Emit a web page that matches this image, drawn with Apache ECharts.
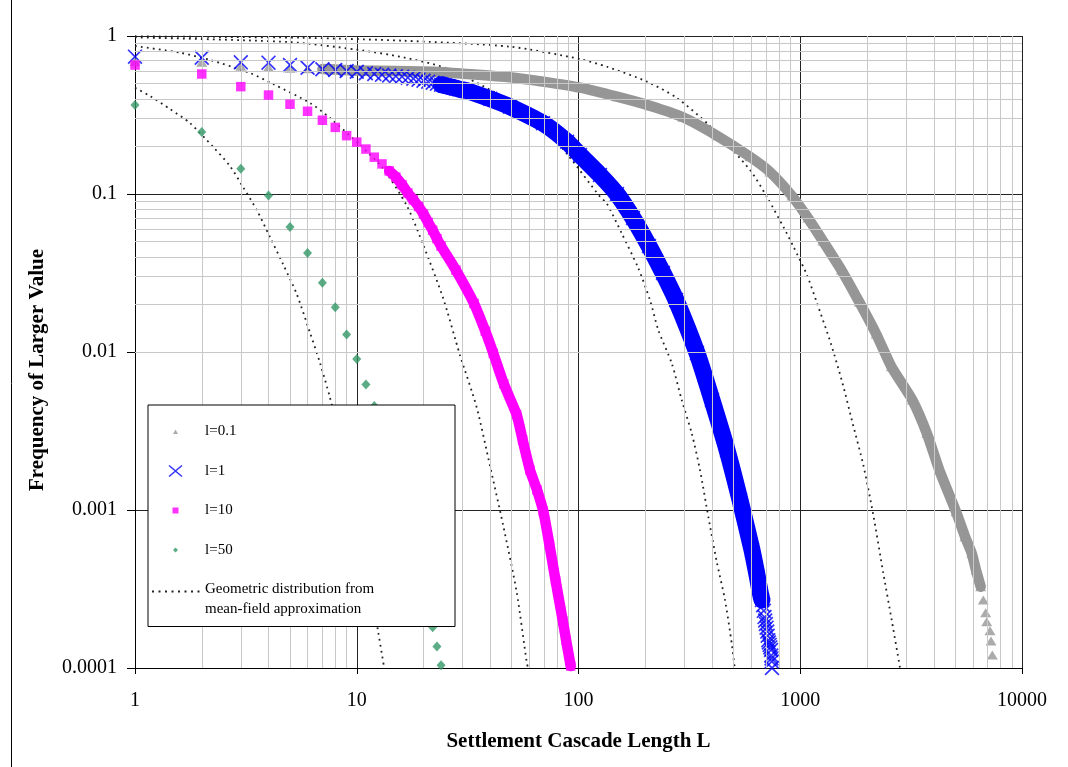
<!DOCTYPE html>
<html>
<head>
<meta charset="utf-8">
<script src="https://cdn.jsdelivr.net/npm/echarts@6/dist/echarts.min.js"></script>
<style>
  html, body { margin: 0; padding: 0; background: #fff; }
  #chart { width: 1068px; height: 767px; }
</style>
</head>
<body>
<div id="chart"></div>
<script>
// ---- Empirical cascade-length distributions (frequency of a larger value) ----
const lenL01 = [1, 2, 3, 4, 5, 6, 7, 10, 22.1, 31.4, 49.1, 69.2, 101.6, 149.1, 209.6, 296, 421, 593.5,
  730.4, 918, 1083, 1266, 1533, 1846, 2200, 2577, 3201, 3722, 4238, 5040, 5534, 5933, 6202, 6513,
  6691, 6859, 6931, 7173, 7248, 7347];
const freqL01 = [0.69, 0.683, 0.644, 0.634, 0.625, 0.62, 0.618, 0.605, 0.594, 0.575, 0.548, 0.514, 0.471,
  0.413, 0.362, 0.306, 0.234, 0.172, 0.1378, 0.0971, 0.0705, 0.0504, 0.033, 0.0207, 0.0130, 0.00807,
  0.00497, 0.00306, 0.00179, 0.000976, 0.000678, 0.000532, 0.000417, 0.000327,
  0.000269, 0.000224, 0.000196, 0.000172, 0.000148, 0.000121];

const lenL1 = [1, 2, 3, 4, 5, 6, 7, 8, 9, 10, 11, 12, 13, 14, 15, 16, 17, 18, 19, 20, 21, 22, 23, 24,
  25, 26, 27, 28, 29, 30, 31.4, 40, 49.1, 69.2, 88.8, 101.6, 125, 149.1, 176.1, 207.9, 240.5,
  275.3, 342.2, 399.9, 467.5, 535, 605.9, 640, 660, 672.1,
  680, 685, 690, 695, 700, 705, 710, 713, 718, 722, 728, 733, 738.3, 740, 742, 744, 745.7];
const freqL1 = [0.740, 0.729, 0.681, 0.678, 0.655, 0.630, 0.616, 0.609, 0.600, 0.594, 0.581, 0.575,
  0.568, 0.562, 0.557, 0.553, 0.545, 0.537, 0.529, 0.521, 0.514, 0.506, 0.499, 0.492, 0.486,
  0.479, 0.473, 0.467, 0.461, 0.456, 0.4505, 0.40, 0.3568, 0.2802, 0.2143, 0.1765, 0.1319,
  0.1, 0.0705, 0.0469, 0.0316, 0.0213, 0.00986, 0.00497, 0.0024, 0.001157, 0.000558,
  0.00038, 0.0003, 0.000269,
  0.00025, 0.00023, 0.00021, 0.0002, 0.00019, 0.00018, 0.00017, 0.00016, 0.00015, 0.000145,
  0.00014, 0.000135, 0.00013, 0.00012, 0.000115, 0.00011, 0.0001];

const lenL10 = [1, 2, 3, 4, 5, 6, 7, 8, 9, 10, 11, 12, 13, 14, 15, 16, 17, 18, 19, 20, 21, 22, 23, 24,
  28, 33.8, 38, 41.3, 46, 52.6, 56, 60.4, 65, 69.4, 74, 78.9, 85, 88, 92.2];
const freqL10 = [0.655, 0.575, 0.478, 0.423, 0.370, 0.334, 0.293, 0.264, 0.234, 0.213, 0.1925, 0.171,
  0.155, 0.140, 0.128, 0.1145, 0.1015, 0.0918, 0.0834, 0.0747, 0.066, 0.059, 0.0522, 0.0468,
  0.033, 0.0203, 0.01354, 0.0098, 0.0063, 0.00402, 0.00277, 0.00179, 0.00134, 0.00098,
  0.0006, 0.000355, 0.000198, 0.000149, 0.000103];

const lenL50 = [1, 2, 3, 4, 5, 6, 7, 8, 9, 10, 11, 12, 13, 14, 15, 16, 17, 18, 19, 20, 21, 22, 23, 24];
const freqL50 = [0.366, 0.247, 0.1444, 0.0977, 0.0618, 0.0423, 0.0274, 0.0192, 0.0129, 0.00903,
  0.00622, 0.00455, 0.00331, 0.0024, 0.00174, 0.00126, 0.00091, 0.00066, 0.00048, 0.000347,
  0.000251, 0.000181, 0.000137, 0.000104];

// ---- Mean-field geometric distributions ----
const geoLen01 = [1, 2.55, 5.55, 16.2, 49.1, 101.6, 134.4, 203.7, 278, 391.8, 593.5, 707.9, 844.8,
  932.2, 1072, 1190, 1372, 1550, 1722, 1924, 2135, 2368, 2585, 2818];
const geoFreq01 = [0.995, 0.985, 0.975, 0.934, 0.856, 0.715, 0.639, 0.514, 0.405, 0.269, 0.1418,
  0.0957, 0.0609, 0.0464, 0.0307, 0.0204, 0.0114, 0.00636, 0.00355, 0.00193, 0.00093,
  0.000399, 0.000201, 0.0001];

const geoLen1 = [1, 5, 10, 16.2, 25.4, 42.8, 49, 70, 90, 125, 134, 156.6, 186.1, 210.1, 229, 263.3,
  292.1, 324, 353.1, 384.9, 420.1, 457.9, 490.9, 506.3];
const geoFreq1 = [0.98, 0.915, 0.82, 0.733, 0.625, 0.434, 0.393, 0.26, 0.175, 0.0961, 0.0873, 0.0564,
  0.0339, 0.0213, 0.01377, 0.00848, 0.00497, 0.00306, 0.00179, 0.000907, 0.000471,
  0.000269, 0.000143, 0.0001];

const geoLen10 = [1, 1.596, 2.18, 3.3, 4.19, 6.15, 7.57, 10.34, 13.1, 16.85, 19.9, 24.5, 29.2, 34.7,
  39.9, 45.7, 52.6, 58.4, 59.2];
const geoFreq10 = [0.864, 0.784, 0.705, 0.583, 0.497, 0.377, 0.303, 0.204, 0.146, 0.0839, 0.048,
  0.022, 0.00957, 0.00449, 0.0019, 0.000804, 0.000303, 0.000109, 0.0001];

const geoLen50 = [1, 1.169, 1.438, 1.77, 2.247, 2.68, 3.07, 3.54, 4.06, 4.65, 5.36, 6.15, 6.83, 7.57,
  9, 10, 11, 12.51, 13.04, 13.3];
const geoFreq50 = [0.47, 0.417, 0.345, 0.281, 0.199, 0.1504, 0.1107, 0.0792, 0.0534, 0.036, 0.0233,
  0.01327, 0.00852, 0.00515, 0.00196, 0.00101, 0.00052, 0.000167, 0.000118, 0.0001];

// ---- Labels ----
const seriesNames = ['l=0.1', 'l=1', 'l=10', 'l=50'];
const geoName = 'Geometric distribution from mean-field approximation';
const xTickLabels = ['1', '10', '100', '1000', '10000'];
const yTickLabels = ['1', '0.1', '0.01', '0.001', '0.0001'];
const xTitle = 'Settlement Cascade Length L';
const yTitle = 'Frequency of Larger Value';

// ---- Helpers ----
function pairs(xs, ys, from, to) {
  const a = from || 0, b = (to == null) ? xs.length : to;
  const out = [];
  for (let i = a; i < b; i++) out.push([xs[i], ys[i]]);
  return out;
}
// minor grid positions 2..9 within each decade
function minorValues(lowExp, highExp) {
  const v = [];
  for (let e = lowExp; e < highExp; e++) {
    for (let m = 2; m <= 9; m++) v.push(+(m * Math.pow(10, e)).toPrecision(6));
  }
  return v;
}

const FONT = 'Liberation Serif';
const GRAY = '#969696', BLUE = '#0000ff', MAGENTA = '#ff00ff', GREEN = '#339966', DOT = '#222';
const X_MARK = 'path://M0,0.8L0.8,0L5,4.2L9.2,0L10,0.8L5.8,5L10,9.2L9.2,10L5,5.8L0.8,10L0,9.2L4.2,5Z';

// legend glyphs drawn inside a 49x20 icon box
const ICON_TRI = 'path://M0,0M49,20M22,12.5L27,12.5L24.5,8Z';
const ICON_X = 'path://M0,0M49,20M17.5,5L18.5,4L24.5,9L30.5,4L31.5,5L25.5,10L31.5,15L30.5,16L24.5,11L18.5,16L17.5,15L23.5,10Z';
const ICON_SQ = 'path://M0,0M49,20M21.5,7L27.5,7L27.5,13L21.5,13Z';
const ICON_DIA = 'path://M0,0M49,20M24.5,7.5L27,10L24.5,12.5L22,10Z';
let ICON_DOTS = 'path://M0,0M49,20';
for (let x = 1; x < 48; x += 6.5) {
  ICON_DOTS += 'M' + x + ',1L' + (x + 2) + ',1L' + (x + 2) + ',3L' + x + ',3Z';
}

const dotted = { color: DOT, width: 1.8, type: [1.8, 4.2] };

function geoSeries(xs, ys) {
  return {
    name: geoName, type: 'line', data: pairs(xs, ys), symbol: 'none', showSymbol: false,
    smooth: 0.25, itemStyle: { color: DOT }, lineStyle: dotted, z: 2, silent: true
  };
}
function band(xs, ys, from, to, color, width, z) {
  return {
    type: 'line', data: pairs(xs, ys, from, to), symbol: 'none', showSymbol: false,
    smooth: 0.2,
    itemStyle: { color: color },
    lineStyle: { color: color, width: width, cap: 'round', join: 'round' }, z: z, silent: true
  };
}

const chart = echarts.init(document.getElementById('chart'), null, { renderer: 'canvas' });

const option = {
  animation: false,
  backgroundColor: '#fff',
  grid: { left: 135, right: 46, top: 36, bottom: 99, containLabel: false },
  xAxis: {
    type: 'log', logBase: 10, min: 1, max: 10000,
    axisLine: { show: true, onZero: false, lineStyle: { color: '#000', width: 1 } },
    axisTick: { show: true, length: 6, lineStyle: { color: '#000' } },
    axisLabel: {
      fontFamily: FONT, fontSize: 20, color: '#000', margin: 23,
      formatter: v => xTickLabels[Math.round(Math.log10(v))]
    },
    splitLine: { show: true, lineStyle: { color: '#222', width: 1 } },
    name: xTitle, nameLocation: 'middle', nameGap: 63,
    nameTextStyle: { fontFamily: FONT, fontWeight: 'bold', fontSize: 21, color: '#000' }
  },
  yAxis: {
    type: 'log', logBase: 10, min: 0.0001, max: 1,
    axisLine: { show: true, onZero: false, lineStyle: { color: '#000', width: 1 } },
    axisTick: { show: true, length: 8, lineStyle: { color: '#000' } },
    axisLabel: {
      fontFamily: FONT, fontSize: 20, color: '#000', margin: 18,
      formatter: v => yTickLabels[Math.round(-Math.log10(v))]
    },
    splitLine: { show: true, lineStyle: { color: '#222', width: 1 } },
    name: yTitle, nameLocation: 'middle', nameGap: 87,
    nameTextStyle: { fontFamily: FONT, fontWeight: 'bold', fontSize: 21, color: '#000', padding: [0, 36, 0, 0] }
  },
  legend: {
    orient: 'vertical', left: 148, top: 405, z: 20,
    selectedMode: false,
    data: [
      { name: seriesNames[0], icon: ICON_TRI },
      { name: seriesNames[1], icon: ICON_X },
      { name: seriesNames[2], icon: ICON_SQ },
      { name: seriesNames[3], icon: ICON_DIA },
      { name: geoName, icon: ICON_DOTS }
    ],
    formatter: n => n === geoName ? 'Geometric distribution from\nmean-field approximation' : n,
    itemWidth: 49, itemHeight: 20, itemGap: 19.5,
    padding: [16.5, 3, 7, 3],
    backgroundColor: '#fff', borderColor: '#000', borderWidth: 1, borderRadius: 0,
    textStyle: { fontFamily: FONT, fontSize: 15, color: '#000', lineHeight: 20, width: 247 }
  },
  graphic: [
    { type: 'line', shape: { x1: 11.5, y1: 0, x2: 11.5, y2: 767 }, style: { stroke: '#000', lineWidth: 1 }, silent: true }
  ],
  series: [
    // light minor grid
    {
      type: 'line', data: [], z: 1, silent: true,
      markLine: {
        silent: true, symbol: ['none', 'none'], animation: false,
        label: { show: false },
        lineStyle: { color: '#c8c8c8', width: 1, type: 'solid' },
        emphasis: { disabled: true },
        data: minorValues(0, 4).map(v => ({ xAxis: v })).concat(minorValues(-4, 0).map(v => ({ yAxis: v })))
      }
    },
    geoSeries(geoLen01, geoFreq01),
    geoSeries(geoLen1, geoFreq1),
    geoSeries(geoLen10, geoFreq10),
    geoSeries(geoLen50, geoFreq50),

    band(lenL01, freqL01, 6, 34, GRAY, 10.5, 3),
    { name: seriesNames[0], type: 'scatter', data: pairs(lenL01, freqL01), symbol: 'triangle',
      symbolSize: [11, 9], itemStyle: { color: GRAY }, z: 3, silent: true },

    band(lenL1, freqL1, 23, 50, BLUE, 17, 4),
    { name: seriesNames[1], type: 'scatter', data: pairs(lenL1, freqL1), symbol: X_MARK,
      symbolSize: 15, itemStyle: { color: BLUE }, z: 4, silent: true },

    band(lenL10, freqL10, 13, lenL10.length, MAGENTA, 10.5, 5),
    { name: seriesNames[2], type: 'scatter', data: pairs(lenL10, freqL10), symbol: 'rect',
      symbolSize: 9.5, itemStyle: { color: MAGENTA }, z: 5, silent: true },

    { name: seriesNames[3], type: 'scatter', data: pairs(lenL50, freqL50), symbol: 'diamond',
      symbolSize: [9, 10], itemStyle: { color: GREEN }, z: 6, silent: true }
  ]
};

chart.setOption(option);
</script>
</body>
</html>
